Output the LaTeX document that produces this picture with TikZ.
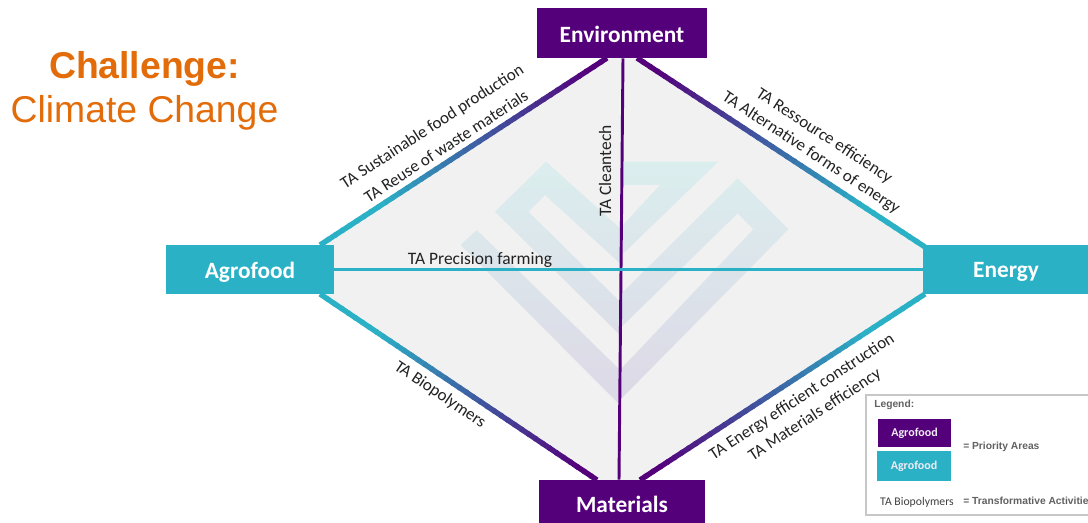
\documentclass[tikz,border=0pt]{standalone}
\usepackage{fontspec}
\setmainfont{Carlito}
\newfontfamily\arialf{Liberation Sans}
\usetikzlibrary{calc}
\definecolor{prio}{HTML}{54007A}
\definecolor{tealc}{HTML}{2BB1C6}
\definecolor{orangec}{HTML}{E36C0A}
\definecolor{panel}{HTML}{F1F1F1}
\definecolor{logotop}{HTML}{DBEEEE}
\definecolor{logobot}{HTML}{DDD8E6}
\definecolor{txt}{HTML}{222222}
\newcommand{\gradconn}[3]{% from teal end #1 to purple end #2, width #3
  \foreach \i in {0,...,39}{
    \pgfmathsetmacro{\pa}{\i/40}
    \pgfmathsetmacro{\pb}{min(1,(\i+1.3)/40)}
    \pgfmathsetmacro{\mx}{max(0,min(100,100*(1-(\i/39-0.2)/0.75)))}
    \draw[line width=#3, tealc!\mx!prio] ($(#1)!\pa!(#2)$) -- ($(#1)!\pb!(#2)$);
  }}
\tikzset{
  area/.style={text=white,font=\bfseries\fontsize{17.5}{19}\selectfont,inner sep=0,anchor=center},
  ta/.style={text=txt,font=\fontsize{12.7}{14}\selectfont,inner sep=0},
  tb/.style={text=txt,font=\fontsize{13.1}{14}\selectfont,inner sep=0},
  legbox/.style={text=white!92!prio,font=\bfseries\fontsize{9}{10}\selectfont,inner sep=0},
  legtxt/.style={text=black!62,font=\arialf\bfseries\fontsize{7.7}{9}\selectfont,inner sep=0,anchor=west}
}
\begin{document}
\begin{tikzpicture}[x=0.75pt,y=-0.75pt]
\useasboundingbox (0,0) rectangle (1088,523);
\fill[white] (0,0) rectangle (1088,523);
% panel
\coordinate (tl) at (607,58);
\coordinate (tr) at (637,58);
\coordinate (lt) at (320,245);
\coordinate (lb) at (320,294);
\coordinate (rt) at (925,247);
\coordinate (rb) at (925,294);
\coordinate (bl) at (597,480);
\coordinate (br) at (640,480);
\fill[panel] (tl)--(tr)--(rt)--(rb)--(br)--(bl)--(lb)--(lt)--cycle;
% logo
\begin{scope}[xshift=330pt,yshift=-97.5pt,x=0.25pt,y=-0.25pt]
  \begin{scope}
    \clip (318,95)--(165,245)--(540,615)--(540,515)--(265,245)--(315,195)--(540,400)--(540,380)--(835,95)--(548,95)--(548,165)--(660,165)--(540,295)--cycle
          (893,145)--(1045,298)--(540,810)--(540,720)--(940,298)--(893,250)--(540,595)--(540,495)--cycle
          (110,300)--(62,345)--(540,825)--(540,720)--cycle;
    \shade[top color=logotop,bottom color=logobot] (50,90) rectangle (1050,830);
  \end{scope}
\end{scope}
% nodes
\node[fill=prio,minimum width=127.5pt,minimum height=37.5pt,inner sep=0] (env) at (622,33) {};
\node[fill=prio,minimum width=124.5pt,minimum height=32.25pt,inner sep=0] (mat) at (622,501.5) {};
\node[fill=tealc,minimum width=126pt,minimum height=36.75pt,inner sep=0] (agro) at (250,269.5) {};
\node[fill=tealc,minimum width=123.75pt,minimum height=36.75pt,inner sep=0] (ener) at (1005.5,269.5) {};
% connectors
\gradconn{lt}{tl}{4pt}
\gradconn{rt}{tr}{4pt}
\gradconn{lb}{bl}{4pt}
\gradconn{rb}{br}{4pt}
\draw[prio,line width=2.2pt] (env.south) ++(1,0) coordinate (vs) (vs) -- (mat.north -| 619,0);
\draw[tealc,line width=2.2pt] (agro.east) -- (ener.west);
% node labels
\node[area] at (622,34) {Environment};
\node[area] at (622,504.5) {Materials};
\node[area] at (250,272) {Agrofood};
\node[area] at (1006,272) {Energy};
% title
\node[text=orangec,font=\arialf\bfseries\fontsize{28}{30}\selectfont,inner sep=0] (t1) at (144.5,69) {Challenge:};
\node[text=orangec,font=\arialf\fontsize{28}{30}\selectfont,inner sep=0] (t2) at (144.5,113) {Climate Change};
% labels
\node[ta,rotate=33] (a1) at (432.5,127) {TA Sustainable food production};
\node[ta,rotate=33] (a2) at (446,146) {TA Reuse of waste materials};
\node[ta,rotate=-33.3] (a3) at (824,136) {TA Ressource efficiency};
\node[ta,rotate=-33.3] (a4) at (811,153) {TA Alternative forms of energy};
\node[ta,rotate=-34] (a5) at (440,395) {TA Biopolymers};
\node[ta,rotate=33.2] (a6) at (802,397) {TA Energy efficient construction};
\node[ta,rotate=33.2] (a7) at (815,415) {TA Materials efficiency};
\node[tb,rotate=90] (a8) at (605,171) {TA Cleantech};
\node[tb] (a9) at (480,260) {TA Precision farming};
% legend
\begin{scope}
\clip (0,0) rectangle (1088,523);
\draw[black!22,line width=0.8pt,fill=white] (866,395) rectangle (1095,515);
\node[legtxt] (lg) at (874,405) {Legend:};
\node[fill=prio,legbox,minimum width=54.5pt,minimum height=21.5pt] (k1) at (914.5,433) {Agrofood};
\node[fill=tealc,legbox,minimum width=55.5pt,minimum height=22pt] (k2) at (914,466) {Agrofood};
\node[legtxt] (k3) at (963,447) {= Priority Areas};
\node[text=black!75,font=\fontsize{8.8}{10}\selectfont,inner sep=0] (k4) at (917,502) {TA Biopolymers};
\node[legtxt] (k5) at (963,501) {= Transformative Activities};
\end{scope}
\end{tikzpicture}
\end{document}
